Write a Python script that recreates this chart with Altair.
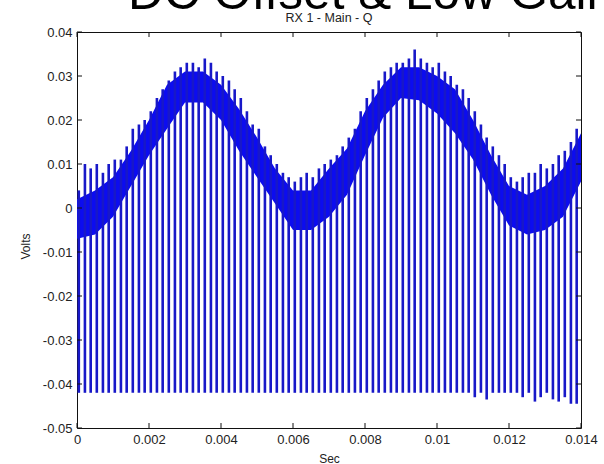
import altair as alt
import pandas as pd

# ---- band of the received Q channel (mV), sampled every 0.5 ms ----
band_t_ms = [0, 0.5, 1, 1.5, 2, 2.5, 3, 3.5, 4, 4.5, 5, 5.5, 6, 6.5, 7,
             7.5, 8, 8.5, 9, 9.5, 10, 10.5, 11, 11.5, 12, 12.5, 13, 13.5, 14]
band_hi_mv = [2, 4, 7, 13, 20, 28, 31, 31, 28, 22.5, 16, 9, 4, 4, 9,
              13.5, 22, 28, 32, 32, 30, 27, 20, 12, 5, 3, 5, 9, 17]
band_lo_mv = [-7, -6, -2, 5, 12, 18, 24, 24, 20, 13, 7, 1, -5, -5, -2,
              3, 12, 20.5, 25, 24.5, 21.5, 17, 11, 3, -4, -6, -5, -2, 6]

# ---- periodic glitches: time (ms), peak (mV) and trough (mV) ----
spike_t_ms = [0.05, 0.22, 0.38, 0.55, 0.72, 0.88, 1.05, 1.22, 1.38, 1.55,
              1.72, 1.88, 2.05, 2.22, 2.38, 2.55, 2.72, 2.88, 3.05, 3.22,
              3.38, 3.55, 3.72, 3.88, 4.05, 4.22, 4.38, 4.55, 4.72, 4.88,
              5.05, 5.22, 5.38, 5.55, 5.72, 5.88, 6.05, 6.22, 6.38, 6.55,
              6.72, 6.88, 7.05, 7.22, 7.38, 7.55, 7.72, 7.88, 8.05, 8.22,
              8.38, 8.55, 8.72, 8.88, 9.05, 9.22, 9.38, 9.55, 9.72, 9.88,
              10.05, 10.22, 10.38, 10.55, 10.72, 10.88, 11.05, 11.22, 11.38, 11.55,
              11.72, 11.88, 12.05, 12.22, 12.38, 12.55, 12.72, 12.88, 13.05, 13.22,
              13.38, 13.55, 13.72, 13.88]
spike_top_mv = [4, 10, 9, 10, 8, 10, 11, 11, 14, 18,
                19, 20, 22, 25, 27, 29, 31, 32, 33, 33,
                32, 34, 33, 31, 30, 29, 27, 25, 22, 19,
                18, 14, 12, 10, 8, 7, 6, 7, 8, 7,
                9, 10, 11, 12, 14, 16, 18, 22, 25, 27,
                29, 31, 32, 33, 33, 34, 36, 34, 33, 32,
                33, 31, 30, 28, 27, 25, 22, 19, 16, 14,
                12, 10, 7, 6, 7, 8, 8, 10, 9, 10,
                12, 13, 15, 18]
spike_low_mv = [-42, -42, -42, -42, -42, -42, -42, -42, -42, -42,
                -42, -42, -42, -42, -42, -42, -42, -42, -42, -42,
                -42, -42, -42, -42, -42, -42, -42, -42, -42, -42,
                -42, -42, -42, -42, -42, -42, -42, -42, -42, -42,
                -42, -42, -42, -42, -42, -42, -42, -42, -42, -42,
                -42, -42, -42, -42, -42, -42, -42, -42, -42, -42,
                -42, -42, -42, -42, -42, -42, -43, -42, -43.5, -42,
                -42, -42, -42, -42, -43, -42, -44, -43, -42, -43.5,
                -44, -43, -44.5, -44.5]

x_ticks = [0, 0.002, 0.004, 0.006, 0.008, 0.01, 0.012, 0.014]
y_ticks = [0.04, 0.03, 0.02, 0.01, 0, -0.01, -0.02, -0.03, -0.04, -0.05]

plot_title = "RX 1 - Main - Q"
slide_heading = "DC Offset & Low Gain"

W, H = 504, 396
FONT = "Liberation Sans"
TXT = "#222222"

band = pd.DataFrame({
    "t": [v / 1000 for v in band_t_ms],
    "lo": [v / 1000 for v in band_lo_mv],
    "hi": [v / 1000 for v in band_hi_mv],
})
spikes = pd.DataFrame({
    "t": [v / 1000 for v in spike_t_ms],
    "top": [v / 1000 for v in spike_top_mv],
    "low": [v / 1000 for v in spike_low_mv],
})

xs = alt.Scale(domain=[0, 0.014], nice=False, zero=False)
ys = alt.Scale(domain=[-0.05, 0.04], nice=False, zero=False)

neg_fmt = "datum.value < 0 ? '-' + format(-datum.value, '.2~f') : format(datum.value, '.2~f')"

x_axis = alt.Axis(values=x_ticks, format=".3~f", title="Sec", ticks=False, domain=False,
                  grid=False, labelPadding=5, labelFontSize=13, labelFont=FONT,
                  labelColor=TXT, titleFont=FONT, titleFontSize=12, titleFontWeight="normal",
                  titleColor=TXT, titlePadding=7, labelFlush=False)
y_axis = alt.Axis(values=y_ticks, labelExpr=neg_fmt, title="Volts", ticks=False, domain=False,
                  grid=False, labelPadding=5, labelFontSize=13, labelFont=FONT,
                  labelColor=TXT, titleFont=FONT, titleFontSize=12, titleFontWeight="normal",
                  titleColor=TXT, titlePadding=10, titleY=214, labelFlush=False)

band_layer = alt.Chart(band).mark_area(color="#0c0cf0", opacity=1, interpolate="linear").encode(
    x=alt.X("t:Q", scale=xs, axis=x_axis),
    y=alt.Y("lo:Q", scale=ys, axis=y_axis),
    y2="hi:Q",
)

spike_layer = alt.Chart(spikes).mark_rule(color="#1818c8", strokeWidth=2.6).encode(
    x="t:Q",
    y="low:Q",
    y2="top:Q",
)

# inward ticks on all four sides of the box
xt = pd.DataFrame({"v": x_ticks})
yt = pd.DataFrame({"v": y_ticks})
tick_style = dict(color="#111111", strokeWidth=1)
ticks_bottom = alt.Chart(xt).mark_rule(**tick_style).encode(
    x="v:Q", y=alt.value(H), y2=alt.value(H - 5))
ticks_top = alt.Chart(xt).mark_rule(**tick_style).encode(
    x="v:Q", y=alt.value(0), y2=alt.value(5))
ticks_left = alt.Chart(yt).mark_rule(**tick_style).encode(
    y="v:Q", x=alt.value(0), x2=alt.value(5))
ticks_right = alt.Chart(yt).mark_rule(**tick_style).encode(
    y="v:Q", x=alt.value(W), x2=alt.value(W - 5))

title_layer = alt.Chart(pd.DataFrame({"s": [plot_title]})).mark_text(
    font=FONT, fontSize=12.5, color=TXT, align="center", baseline="alphabetic"
).encode(x=alt.value(W / 2), y=alt.value(-10), text="s:N")

heading_layer = alt.Chart(pd.DataFrame({"s": [slide_heading]})).mark_text(
    font=FONT, fontSize=49.5, color="#000000", align="left", baseline="alphabetic"
).encode(x=alt.value(51), y=alt.value(-23), text="s:N")

chart = alt.layer(
    band_layer, spike_layer, ticks_bottom, ticks_top, ticks_left, ticks_right,
    title_layer, heading_layer,
).properties(
    width=W, height=H,
    autosize=alt.AutoSizeParams(type="none"),
    padding={"left": 77, "top": 32, "right": 23, "bottom": 36},
    background="white",
).configure_view(stroke="#111111", strokeWidth=1)

chart.save("out.html", embed_options={"renderer": "svg", "actions": False})
